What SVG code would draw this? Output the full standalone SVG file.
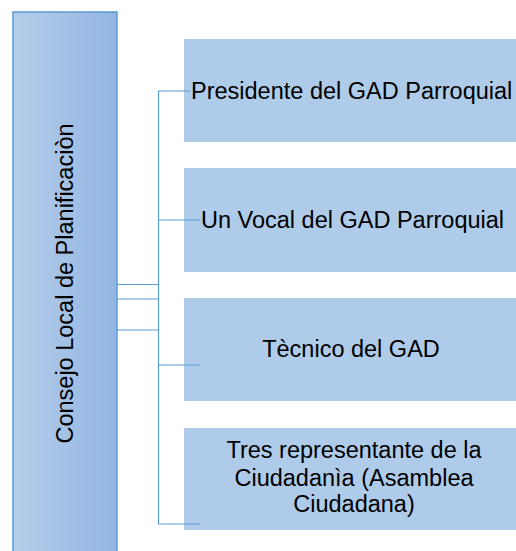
<svg xmlns="http://www.w3.org/2000/svg" width="516" height="551" viewBox="0 0 516 551">
<defs>
<linearGradient id="g1" x1="0" y1="0" x2="1" y2="0">
<stop offset="0" stop-color="#b6cdea"/>
<stop offset="1" stop-color="#92b6e2"/>
</linearGradient>
<style>
.box{fill:#aecbe9;}
.t{font-family:"Liberation Sans",Arial,sans-serif;font-size:23.5px;fill:#000;}
.c{fill:none;stroke:#5b9bd5;stroke-width:1.2;}
</style>
</defs>
<g id="root">
<rect x="13" y="12" width="104" height="545" fill="url(#g1)" stroke="#5b9bd5" stroke-width="1.5"/>
<text class="t" text-anchor="middle" transform="translate(73,283.5) rotate(-90)">Consejo Local de Planificaciòn</text>
</g>
<g id="n1">
<rect class="box" x="184" y="39" width="334" height="103"/>
<text class="t" x="191" y="99">Presidente del GAD Parroquial</text>
</g>
<g id="n2">
<rect class="box" x="184" y="168" width="334" height="104"/>
<text class="t" x="201" y="227.5">Un Vocal del GAD Parroquial</text>
</g>
<g id="n3">
<rect class="box" x="184" y="298" width="334" height="103"/>
<text class="t" x="351" y="357" text-anchor="middle">Tècnico del GAD</text>
</g>
<g id="n4">
<rect class="box" x="184" y="428" width="334" height="102"/>
<text class="t" x="354" y="457.5" text-anchor="middle">Tres representante de la</text>
<text class="t" x="354" y="485.5" text-anchor="middle">Ciudadanìa (Asamblea</text>
<text class="t" x="354" y="512" text-anchor="middle">Ciudadana)</text>
</g>
<g id="connectors">
<path class="c" d="M117,284.5H158.5M117,299H158.5M117,330H158.5"/>
<path class="c" d="M190,91H158.5V524H200"/>
<path class="c" d="M158.5,220H200"/>
<path class="c" d="M158.5,365H200"/>
</g>
</svg>
